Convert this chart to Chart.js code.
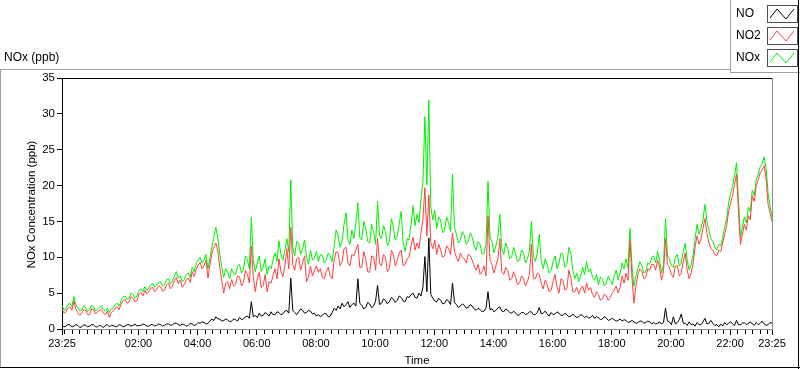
<!DOCTYPE html>
<html>
<head>
<meta charset="utf-8">
<script src="https://cdn.jsdelivr.net/npm/chart.js@4/dist/chart.umd.min.js"></script>
<style>
  html, body { margin: 0; padding: 0; background: #fff; }
  #wrap { position: relative; width: 800px; height: 369px; }
</style>
</head>
<body>
<div id="wrap"><canvas id="myChart" width="800" height="369"></canvas></div>
<script>
// one sample every 4 minutes, starting at 23:25
var startMinute = 23 * 60 + 25;
var stepMinutes = 4;

var seriesNames = ['NO', 'NO2', 'NOx'];

var noxValues = [
    3.3, 2.6, 2.8, 3.4, 3.6, 3.1, 4.5, 3.4, 3.0, 2.5,
    2.6, 3.2, 3.0, 2.4, 2.7, 3.3, 3.1, 2.5, 2.8, 3.0,
    3.2, 2.7, 2.5, 2.9, 2.3, 2.8, 2.9, 3.4, 3.6, 3.2,
    4.0, 4.5, 4.6, 4.1, 4.3, 5.0, 4.8, 4.3, 4.6, 5.3,
    5.6, 5.2, 5.9, 5.4, 5.7, 6.2, 6.4, 5.8, 6.1, 6.5,
    6.6, 6.0, 6.2, 6.9, 7.0, 6.3, 6.7, 7.4, 8.0, 7.1,
    7.4, 6.6, 6.9, 7.6, 7.8, 7.2, 8.6, 8.0, 9.1, 9.6,
    10.0, 9.2, 9.6, 10.4, 8.4, 9.8, 11.5, 12.8, 14.2, 12.6,
    10.5, 8.6, 7.2, 8.4, 7.9, 7.0, 8.4, 7.8, 7.6, 8.8,
    9.0, 7.8, 8.2, 10.2, 9.6, 8.4, 15.6, 9.6, 8.0, 9.2,
    10.2, 8.0, 8.6, 9.8, 7.6, 8.8, 8.4, 9.6, 10.6, 9.4,
    12.3, 10.4, 9.6, 11.0, 12.6, 10.8, 20.8, 11.4, 10.2, 12.2,
    12.0, 10.4, 11.2, 12.4, 10.0, 9.0, 11.0, 9.6, 9.9, 10.8,
    9.4, 10.4, 10.3, 9.2, 9.6, 10.6, 10.2, 9.4, 11.6, 13.8,
    13.0, 11.4, 12.2, 14.6, 16.2, 12.4, 11.8, 13.8, 12.6, 14.8,
    17.6, 12.8, 12.4, 15.0, 14.0, 12.2, 12.0, 14.6, 13.6, 11.8,
    17.8, 13.0, 12.6, 14.4, 13.6, 11.6, 12.2, 15.4, 14.2, 12.4,
    13.0, 14.8, 16.4, 12.0, 10.8, 12.6, 12.4, 14.6, 17.2, 14.4,
    16.0, 14.8, 18.0, 20.4, 29.6, 20.1, 31.9, 17.0, 15.2, 16.6,
    14.0, 15.6, 15.2, 13.4, 13.8, 15.6, 14.8, 13.6, 21.6, 14.2,
    13.2, 12.0, 12.4, 13.6, 13.0, 11.8, 12.2, 13.4, 12.8, 11.6,
    11.0, 12.2, 11.8, 10.4, 10.6, 11.8, 20.6, 12.8, 12.2, 10.6,
    11.6, 12.8, 16.0, 11.2, 10.4, 12.0, 11.2, 9.8, 10.0, 11.4,
    10.4, 9.4, 9.6, 11.0, 10.6, 9.2, 9.8, 10.8, 15.0, 10.2,
    9.4, 10.6, 13.2, 9.6, 8.4, 9.8, 9.0, 7.8, 8.2, 9.4,
    10.2, 8.4, 9.2, 10.6, 10.4, 8.6, 9.0, 11.4, 10.6, 8.2,
    7.0, 7.8, 6.6, 7.4, 8.6, 7.6, 9.4, 8.0, 8.4, 7.2,
    6.8, 7.6, 6.2, 7.2, 7.0, 6.0, 6.4, 7.4, 6.8, 6.2,
    7.4, 8.2, 6.8, 7.8, 9.2, 8.4, 9.8, 8.6, 14.0, 8.8,
    6.0, 7.4, 8.4, 9.4, 8.8, 7.8, 8.0, 9.2, 9.0, 10.0,
    10.2, 9.2, 10.8, 9.6, 7.8, 9.0, 15.4, 10.2, 9.8, 8.8,
    8.6, 10.0, 10.4, 8.8, 9.2, 10.8, 12.0, 9.6, 8.2, 9.0,
    10.4, 12.6, 14.6, 13.2, 14.0, 15.2, 17.4, 15.0, 13.8, 12.6,
    12.2, 11.4, 11.0, 11.8, 11.6, 12.8, 14.2, 15.4, 17.6, 18.8,
    20.0, 21.4, 23.2, 18.0, 12.8, 14.2, 15.6, 14.8, 17.0, 16.4,
    19.4, 18.6, 20.8, 21.6, 22.6, 23.0, 24.0, 22.4, 19.0, 17.2,
    15.6
];

var no2Values = [
    2.8, 2.2, 2.4, 2.9, 3.1, 2.6, 3.9, 2.8, 2.3, 1.9,
    2.2, 2.7, 2.6, 2.0, 2.0, 2.8, 2.7, 2.1, 2.4, 2.6,
    2.7, 2.2, 2.0, 2.5, 1.6, 2.3, 2.5, 2.9, 3.1, 2.7,
    3.5, 4.0, 4.1, 3.6, 3.8, 4.5, 4.3, 3.8, 4.0, 4.8,
    5.1, 4.6, 5.4, 4.9, 5.2, 5.7, 5.8, 5.2, 5.5, 6.0,
    5.9, 5.3, 5.4, 6.2, 6.4, 5.6, 5.9, 6.8, 7.2, 6.3,
    6.8, 5.8, 6.2, 6.9, 7.1, 6.5, 8.0, 7.3, 8.3, 8.9,
    9.3, 8.4, 8.8, 9.6, 7.1, 8.9, 10.6, 11.4, 12.0, 11.0,
    8.6, 6.8, 5.0, 6.4, 6.6, 5.6, 6.9, 6.0, 6.2, 7.4,
    7.3, 6.0, 6.5, 8.2, 7.6, 6.4, 11.6, 7.2, 5.2, 7.0,
    7.9, 5.8, 6.0, 7.6, 5.2, 6.6, 6.4, 7.4, 8.4, 7.0,
    9.8, 8.0, 7.3, 8.8, 11.2, 8.4, 14.2, 9.0, 8.2, 9.8,
    10.0, 8.2, 9.2, 10.2, 6.6, 7.2, 8.8, 7.4, 8.2, 8.8,
    7.9, 8.4, 7.2, 7.0, 8.0, 8.6, 7.4, 7.0, 9.6, 10.8,
    10.6, 8.8, 9.4, 11.2, 11.4, 9.2, 8.8, 10.4, 10.2, 11.0,
    11.8, 8.6, 8.6, 10.8, 9.8, 8.0, 7.9, 10.2, 10.0, 8.2,
    12.6, 9.2, 8.8, 10.4, 10.0, 8.0, 8.4, 11.0, 10.4, 8.8,
    9.6, 10.6, 11.0, 8.8, 9.0, 9.8, 10.0, 11.6, 12.8, 11.0,
    12.0, 11.2, 13.4, 15.2, 19.7, 13.0, 18.7, 12.0, 11.2, 12.4,
    10.4, 11.8, 11.0, 10.0, 10.2, 11.6, 11.2, 10.4, 13.4, 10.8,
    10.0, 9.4, 10.6, 10.0, 9.8, 9.2, 10.4, 10.2, 9.6, 8.8,
    8.2, 9.0, 7.6, 8.0, 8.8, 7.4, 15.8, 9.6, 9.0, 7.8,
    8.8, 9.8, 12.6, 8.0, 7.6, 8.6, 8.2, 6.8, 7.0, 8.0,
    7.2, 6.2, 6.4, 7.4, 7.0, 6.0, 6.6, 7.6, 11.8, 7.0,
    7.0, 7.8, 7.6, 6.4, 5.6, 6.8, 6.2, 5.2, 5.4, 6.6,
    7.6, 5.8, 5.0, 7.0, 6.8, 5.4, 5.6, 8.2, 7.2, 5.2,
    5.2, 5.8, 4.9, 5.6, 6.0, 5.0, 6.4, 5.4, 5.8, 4.8,
    4.4, 5.2, 4.8, 4.0, 4.2, 4.9, 4.6, 4.0, 4.4, 5.0,
    5.4, 6.0, 5.0, 5.8, 7.4, 6.4, 7.8, 6.8, 12.4, 7.2,
    3.6, 6.0, 7.6, 8.4, 8.0, 7.0, 7.2, 8.4, 8.2, 9.0,
    9.0, 8.2, 9.6, 8.6, 6.8, 8.0, 12.6, 9.0, 8.6, 7.6,
    7.2, 8.8, 8.8, 7.4, 7.8, 9.4, 10.6, 8.2, 7.0, 7.8,
    9.2, 11.4, 13.0, 11.8, 12.6, 14.0, 15.4, 13.4, 12.0, 11.2,
    11.0, 10.4, 10.2, 11.0, 10.8, 12.0, 13.2, 14.4, 16.4, 17.6,
    18.6, 20.2, 21.6, 16.4, 11.8, 13.2, 14.6, 13.8, 15.8, 15.2,
    18.6, 17.8, 20.0, 20.8, 21.8, 22.2, 22.8, 21.0, 17.4, 16.2,
    15.0
];

var noValues = [
    0.5, 0.3, 0.4, 0.6, 0.6, 0.3, 0.4, 0.6, 0.5, 0.2,
    0.3, 0.6, 0.5, 0.3, 0.4, 0.6, 0.6, 0.3, 0.3, 0.5,
    0.4, 0.2, 0.5, 0.6, 0.3, 0.5, 0.5, 0.3, 0.4, 0.6,
    0.5, 0.3, 0.4, 0.6, 0.6, 0.4, 0.5, 0.7, 0.4, 0.5,
    0.5, 0.7, 0.6, 0.4, 0.4, 0.6, 0.6, 0.4, 0.5, 0.7,
    0.6, 0.4, 0.5, 0.7, 0.7, 0.5, 0.6, 0.8, 0.8, 0.6,
    0.5, 0.7, 0.6, 0.4, 0.5, 0.8, 0.7, 0.5, 0.6, 0.9,
    0.8, 1.0, 0.9, 0.7, 0.8, 1.1, 1.4, 1.2, 1.7, 1.4,
    1.4, 1.1, 1.2, 1.4, 1.3, 1.0, 1.1, 1.4, 1.3, 1.1,
    1.6, 1.3, 1.4, 1.7, 1.8, 1.5, 3.8, 1.7, 1.9, 1.6,
    2.2, 1.8, 1.9, 2.3, 2.1, 1.8, 2.4, 2.0, 2.0, 2.4,
    2.3, 2.0, 2.1, 2.5, 2.6, 2.2, 7.1, 2.6, 2.3, 2.0,
    2.4, 2.8, 2.6, 2.2, 2.3, 2.6, 2.5, 2.1, 2.2, 1.8,
    2.0, 1.7, 1.9, 2.2, 2.1, 1.7, 1.8, 2.3, 2.9, 2.6,
    3.2, 2.8, 3.6, 3.1, 3.4, 3.8, 3.0, 3.4, 3.6, 3.2,
    7.0, 3.6, 3.3, 2.8, 3.0, 3.7, 3.5, 3.0, 3.2, 3.9,
    6.1, 3.4, 3.6, 4.2, 4.0, 3.5, 3.8, 4.4, 4.2, 3.7,
    4.0, 4.6, 4.4, 3.9, 3.8, 4.5, 4.4, 4.8, 5.0, 4.4,
    4.3, 5.0, 4.6, 5.8, 10.1, 5.2, 12.7, 4.8, 4.3, 3.9,
    3.8, 4.3, 4.0, 3.5, 3.6, 4.1, 3.9, 3.4, 6.4, 3.7,
    3.4, 3.0, 3.2, 3.5, 3.3, 2.9, 3.0, 3.4, 3.2, 2.8,
    2.6, 2.9, 2.7, 2.4, 2.5, 2.9, 5.2, 2.7, 2.8, 2.4,
    2.6, 2.9, 3.1, 2.5, 2.4, 2.8, 2.6, 2.3, 2.2, 2.5,
    2.2, 1.9, 2.0, 2.3, 2.3, 2.0, 2.1, 2.4, 2.4, 2.0,
    2.0, 2.3, 3.0, 2.1, 2.2, 2.5, 2.1, 1.8, 2.3, 2.0,
    2.1, 2.4, 2.2, 1.9, 1.9, 2.2, 2.0, 1.7, 1.8, 2.1,
    1.8, 1.6, 1.7, 2.0, 1.9, 1.6, 1.8, 1.5, 1.6, 1.9,
    1.5, 1.7, 1.6, 1.3, 1.4, 1.7, 1.5, 1.2, 1.3, 1.5,
    1.3, 1.1, 1.2, 1.4, 1.1, 1.3, 1.2, 0.9, 1.0, 1.2,
    1.0, 0.8, 0.9, 1.1, 1.1, 0.8, 0.9, 1.1, 1.0, 0.7,
    0.9, 0.7, 0.8, 1.0, 0.7, 0.9, 2.9, 1.1, 1.0, 0.6,
    1.7, 0.7, 0.9, 1.3, 2.1, 0.8, 0.8, 0.5, 1.0, 0.6,
    0.7, 0.4, 0.9, 0.6, 0.6, 1.0, 1.5, 0.7, 0.8, 1.2,
    0.8, 0.5, 0.6, 0.3, 0.7, 0.4, 0.9, 0.6, 0.8, 1.0,
    0.7, 0.5, 1.2, 0.6, 0.6, 0.8, 0.9, 0.6, 0.8, 1.0,
    0.7, 0.5, 0.9, 0.6, 0.8, 1.1, 0.7, 0.5, 0.6, 0.9,
    0.8
];

// labelled ticks (minutes after 23:25): 23:25, 02:00 ... 22:00, 23:25
var majorTicks = [0, 155, 275, 395, 515, 635, 755, 875, 995, 1115, 1235, 1355, 1440];
var yTicks = [0, 5, 10, 15, 20, 25, 30, 35];

var colors = { NO: '#000000', NO2: '#ff4040', NOx: '#00f000' };

function toPoints(values) {
    return values.map(function(v, i) { return { x: i * stepMinutes, y: v }; });
}

function clockLabel(m) {
    var t = (startMinute + m) % 1440;
    var h = Math.floor(t / 60), mm = t % 60;
    return (h < 10 ? '0' : '') + h + ':' + (mm < 10 ? '0' : '') + mm;
}

var uiFont = '"Liberation Sans", Arial, sans-serif';

var framePlugin = {
    id: 'frame',
    beforeDraw: function(chart) {
        var c = chart.ctx;
        c.save();
        c.fillStyle = '#fff';
        c.fillRect(0, 0, chart.width, chart.height);
        c.restore();
    },
    afterDraw: function(chart) {
        var c = chart.ctx;
        var a = chart.chartArea;
        var xs = chart.scales.x;
        c.save();

        // plot box: top black, right grey
        c.lineWidth = 1;
        c.strokeStyle = '#000';
        c.beginPath(); c.moveTo(a.left, a.top + 0.5); c.lineTo(a.right, a.top + 0.5); c.stroke();
        c.strokeStyle = '#8c8c8c';
        c.beginPath(); c.moveTo(a.right + 0.5, a.top); c.lineTo(a.right + 0.5, a.bottom + 1); c.stroke();

        // minor ticks every 15 minutes
        c.strokeStyle = '#000';
        c.beginPath();
        for (var m = 5; m < 1440; m += 15) {
            if (majorTicks.indexOf(m) >= 0) continue;
            var px = Math.round(xs.getPixelForValue(m)) + 0.5;
            c.moveTo(px, a.bottom + 1); c.lineTo(px, a.bottom + 5);
        }
        c.stroke();

        // outer frame
        c.strokeStyle = '#a0a0a0';
        c.beginPath();
        c.moveTo(0, 69.5); c.lineTo(730, 69.5);
        c.moveTo(0.5, 69); c.lineTo(0.5, 368);
        c.moveTo(730.5, 0); c.lineTo(730.5, 72);
        c.moveTo(730, 72.5); c.lineTo(800, 72.5);
        c.stroke();
        c.strokeStyle = '#000';
        c.beginPath();
        c.moveTo(0, 367.5); c.lineTo(800, 367.5);
        c.moveTo(798.5, 0); c.lineTo(798.5, 369);
        c.stroke();

        // titles
        c.fillStyle = '#000';
        c.font = '12px ' + uiFont;
        c.textBaseline = 'middle';
        c.textAlign = 'left';
        c.fillText('NOx (ppb)', 4, 58);

        c.font = '11.5px ' + uiFont;
        c.textAlign = 'center';
        c.fillText('Time', (a.left + a.right) / 2, 361);
        c.save();
        c.translate(32, (a.top + a.bottom) / 2 + 1);
        c.rotate(-Math.PI / 2);
        c.fillText('NOx Concentration (ppb)', 0, 0);
        c.restore();

        // legend
        var rows = [14, 36, 58];
        seriesNames.forEach(function(name, k) {
            var cy = rows[k];
            c.fillStyle = '#000';
            c.font = '12px ' + uiFont;
            c.textAlign = 'left';
            c.textBaseline = 'middle';
            c.fillText(name, 736, cy);
            var bx = 767, by = cy - 9, bw = 30, bh = 17;
            c.strokeStyle = '#505050';
            c.strokeRect(bx + 0.5, by + 0.5, bw, bh);
            c.strokeStyle = colors[name];
            c.beginPath();
            c.moveTo(bx + 3, by + 13);
            c.lineTo(bx + 10, by + 4);
            c.lineTo(bx + 19, by + 14);
            c.lineTo(bx + 27, by + 4);
            c.stroke();
        });
        c.restore();
    }
};

var ctx = document.getElementById('myChart').getContext('2d');

var myChart = new Chart(ctx, {
    type: 'line',
    data: {
        datasets: [
            { label: 'NOx', data: toPoints(noxValues), borderColor: colors.NOx, borderWidth: 1, pointRadius: 0, tension: 0, order: 3 },
            { label: 'NO2', data: toPoints(no2Values), borderColor: colors.NO2, borderWidth: 1, pointRadius: 0, tension: 0, order: 2 },
            { label: 'NO', data: toPoints(noValues), borderColor: colors.NO, borderWidth: 1, pointRadius: 0, tension: 0, order: 1 }
        ]
    },
    options: {
        responsive: false,
        animation: false,
        events: [],
        layout: { padding: { left: 0, top: 78, right: 28, bottom: 0 } },
        plugins: { legend: { display: false }, tooltip: { enabled: false } },
        scales: {
            x: {
                type: 'linear',
                min: 0,
                max: 1440,
                afterBuildTicks: function(scale) {
                    scale.ticks = majorTicks.map(function(v) { return { value: v }; });
                },
                afterFit: function(scale) { scale.height = 40; },
                grid: { drawOnChartArea: false, drawTicks: true, tickLength: 6, tickColor: '#000' },
                border: { color: '#8c8c8c' },
                ticks: {
                    autoSkip: false,
                    maxRotation: 0,
                    padding: 2,
                    color: '#000',
                    font: { family: uiFont, size: 11 },
                    callback: function(v) { return clockLabel(v); }
                }
            },
            y: {
                min: 0,
                max: 35,
                afterBuildTicks: function(scale) {
                    scale.ticks = yTicks.map(function(v) { return { value: v }; });
                },
                afterFit: function(scale) { scale.width = 62; },
                grid: { drawOnChartArea: false, drawTicks: true, tickLength: 5, tickColor: '#000' },
                border: { color: '#000' },
                ticks: {
                    padding: 2,
                    color: '#000',
                    font: { family: uiFont, size: 11.5 }
                }
            }
        }
    },
    plugins: [framePlugin]
});
</script>
</body>
</html>
